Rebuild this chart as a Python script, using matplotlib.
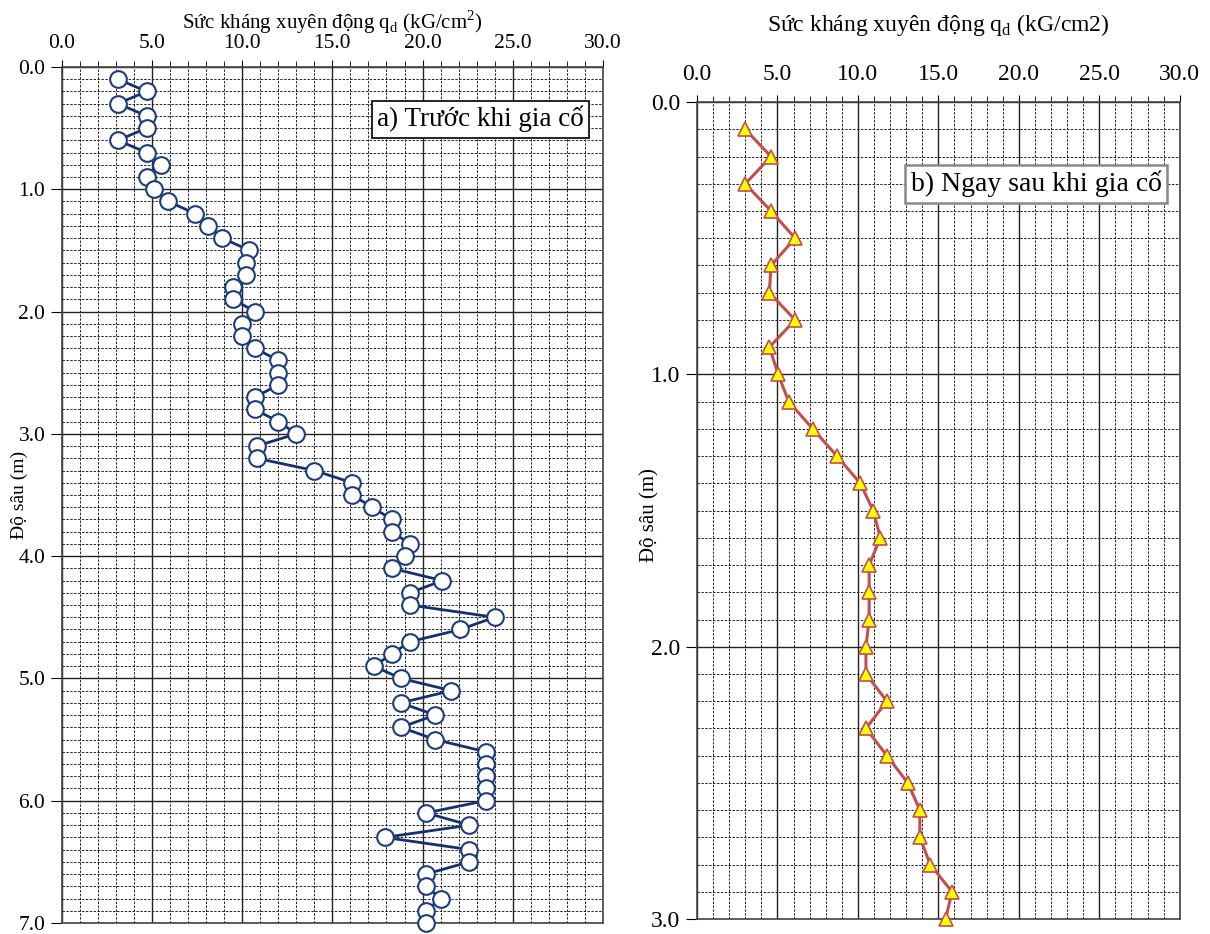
import numpy as np
import matplotlib
matplotlib.use('Agg')
import matplotlib.pyplot as plt
from matplotlib.ticker import FormatStrFormatter

plt.rcParams['font.family'] = ['Liberation Serif', 'DejaVu Serif']

# a) before reinforcement: depth (m) and dynamic cone resistance qd (kG/cm2)
depth_a = [0.1, 0.2, 0.3, 0.4, 0.5, 0.6, 0.7, 0.8, 0.9, 1.0,
           1.1, 1.2, 1.3, 1.4, 1.5, 1.6, 1.7, 1.8, 1.9, 2.0,
           2.1, 2.2, 2.3, 2.4, 2.5, 2.6, 2.7, 2.8, 2.9, 3.0,
           3.1, 3.2, 3.3, 3.4, 3.5, 3.6, 3.7, 3.8, 3.9, 4.0,
           4.1, 4.2, 4.3, 4.4, 4.5, 4.6, 4.7, 4.8, 4.9, 5.0,
           5.1, 5.2, 5.3, 5.4, 5.5, 5.6, 5.7, 5.8, 5.9, 6.0,
           6.1, 6.2, 6.3, 6.4, 6.5, 6.6, 6.7, 6.8, 6.9, 7.0]
qd_a = [3.1, 4.7, 3.1, 4.7, 4.7, 3.1, 4.7, 5.5, 4.7, 5.1,
        5.9, 7.4, 8.1, 8.9, 10.4, 10.2, 10.2, 9.5, 9.5, 10.7,
        10.0, 10.0, 10.7, 12.0, 12.0, 12.0, 10.7, 10.7, 12.0, 13.0,
        10.8, 10.8, 14.0, 16.1, 16.1, 17.2, 18.3, 18.3, 19.3, 19.0,
        18.3, 21.1, 19.3, 19.3, 24.0, 22.1, 19.3, 18.3, 17.3, 18.8,
        21.6, 18.8, 20.7, 18.8, 20.7, 23.5, 23.5, 23.5, 23.5, 23.5,
        20.2, 22.6, 17.9, 22.6, 22.6, 20.2, 20.2, 21.0, 20.2, 20.2]

# b) right after reinforcement
depth_b = [0.1, 0.2, 0.3, 0.4, 0.5, 0.6, 0.7, 0.8, 0.9, 1.0,
           1.1, 1.2, 1.3, 1.4, 1.5, 1.6, 1.7, 1.8, 1.9, 2.0,
           2.1, 2.2, 2.3, 2.4, 2.5, 2.6, 2.7, 2.8, 2.9, 3.0]
qd_b = [3.0, 4.6, 3.0, 4.6, 6.1, 4.6, 4.5, 6.1, 4.5, 5.05,
        5.7, 7.2, 8.7, 10.15, 10.95, 11.4, 10.7, 10.7, 10.7, 10.5,
        10.5, 11.8, 10.5, 11.8, 13.1, 13.85, 13.85, 14.5, 15.85, 15.45]

x_ticks = [0, 5, 10, 15, 20, 25, 30]

fig = plt.figure(figsize=(12.1, 9.34), dpi=100)
ax1 = fig.add_axes([0.0512, 0.0118, 0.447, 0.9165])
ax2 = fig.add_axes([0.576, 0.016, 0.399, 0.8747])


def style_axes(ax, ymax, tick_fs, xpad):
    ax.set_xlim(0, 30)
    ax.set_ylim(ymax, 0)
    ax.xaxis.tick_top()
    ax.xaxis.set_label_position('top')
    ax.set_xticks(x_ticks)
    ax.set_xticks(np.arange(0, 31, 1), minor=True)
    ax.set_yticks(np.arange(0, ymax + 0.01, 1.0))
    ax.set_yticks(np.arange(0, ymax + 0.01, 0.1), minor=True)
    ax.xaxis.set_major_formatter(FormatStrFormatter('%.1f'))
    ax.yaxis.set_major_formatter(FormatStrFormatter('%.1f'))
    ax.tick_params(axis='x', which='major', direction='out', length=5,
                   labelsize=tick_fs, pad=xpad)
    ax.tick_params(axis='x', which='minor', direction='out', length=4)
    ax.tick_params(axis='y', which='major', direction='out', length=8,
                   labelsize=tick_fs, pad=4)
    ax.tick_params(axis='y', which='minor', length=0)
    ax.grid(which='major', color='#222222', linestyle='-', linewidth=1.0)
    ax.grid(which='minor', color='#222222', linestyle=(0, (2.5, 1.5)),
            linewidth=0.7)
    ax.set_axisbelow(True)
    for sp in ax.spines.values():
        sp.set_color('#444444')
        sp.set_linewidth(1.2)


style_axes(ax1, 7.0, 15.5, 5)
style_axes(ax2, 3.0, 17, 7)

ax1.plot(qd_a, depth_a, color='#17306B', linewidth=2, marker='o',
         markersize=12, markerfacecolor='white', markeredgecolor='#1F3C7A',
         markeredgewidth=1.5, clip_on=False, zorder=3)
ax2.plot(qd_b, depth_b, color='#C0504D', linewidth=2.2, marker='^',
         markersize=10, markerfacecolor='#FFFF00', markeredgecolor='#C0504D',
         markeredgewidth=1.2, clip_on=False, zorder=3)

ax1.set_xlabel('Sức kháng xuyên động q$_\\mathregular{d}$ (kG/cm$^\\mathregular{2}$)',
               fontsize=15, labelpad=4)
ax2.set_xlabel('Sức kháng xuyên động q$_\\mathregular{d}$ (kG/cm2)',
               fontsize=17, labelpad=24)
ax1.set_ylabel('Độ sâu (m)', fontsize=14)
ax1.yaxis.set_label_coords(-0.063, 0.5)
ax2.set_ylabel('Độ sâu (m)', fontsize=15)
ax2.yaxis.set_label_coords(-0.077, 0.494)

ax1.text(0.965, 0.939, 'a) Trước khi gia cố', transform=ax1.transAxes,
         fontsize=19.5, ha='right', va='center',
         bbox=dict(boxstyle='square,pad=0.2', facecolor='white',
                   edgecolor='black', linewidth=1.2))
ax2.text(0.962, 0.9, 'b) Ngay sau khi gia cố', transform=ax2.transAxes,
         fontsize=20, ha='right', va='center',
         bbox=dict(boxstyle='square,pad=0.2', facecolor='white',
                   edgecolor='#888888', linewidth=1.8))

fig.savefig('out.png', dpi=100)
